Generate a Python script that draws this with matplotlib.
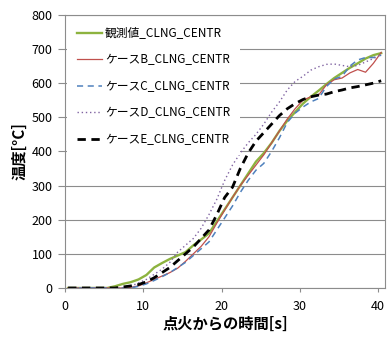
import matplotlib
matplotlib.use('Agg')
import matplotlib.pyplot as plt

plt.rcParams['font.family'] = ['Noto Sans CJK JP', 'DejaVu Sans']

# 時間 [s]
time = [0.4, 1.4, 2.4, 3.4, 4.4, 5.4, 6.4, 7.4, 8.4, 9.4,
        10.4, 11.4, 12.4, 13.4, 14.4, 15.4, 16.4, 17.4, 18.4, 19.4,
        20.4, 21.4, 22.4, 23.4, 24.4, 25.4, 26.4, 27.4, 28.4, 29.4,
        30.4, 31.4, 32.4, 33.4, 34.4, 35.4, 36.4, 37.4, 38.4, 39.4, 40.4]

# 観測値
obs = [0, 0, 0, 0, 0, 0, 5, 12, 17, 25,
       38, 60, 73, 85, 95, 105, 125, 142, 160, 195,
       230, 265, 300, 335, 370, 395, 425, 460, 490, 515,
       540, 560, 578, 597, 615, 630, 645, 658, 672, 682, 688]

case_b = [0, 0, 0, 0, 0, 0, 0, 0, 2, 6,
          15, 25, 35, 45, 58, 78, 100, 122, 150, 190,
          228, 265, 300, 330, 360, 390, 425, 460, 495, 525,
          550, 560, 565, 595, 610, 615, 630, 640, 632, 658, 690]

case_c = [0, 0, 0, 0, 0, 0, 0, 0, 0, 5,
          12, 22, 33, 45, 60, 75, 95, 115, 135, 170,
          205, 240, 280, 315, 345, 365, 400, 440, 485, 512,
          530, 545, 555, 590, 612, 620, 650, 668, 675, 675, 682]

case_d = [0, 0, 0, 0, 0, 0, 0, 0, 5, 15,
          25, 40, 55, 75, 105, 125, 145, 175, 215, 260,
          315, 360, 395, 425, 450, 480, 515, 545, 580, 605,
          620, 638, 648, 655, 656, 652, 648, 652, 662, 672, 683]

case_e = [0, 0, 0, 0, 0, 0, 0, 3, 6, 10,
          18, 30, 45, 60, 80, 100, 120, 145, 170, 215,
          265, 295, 350, 395, 430, 455, 480, 505, 525, 540,
          552, 560, 565, 568, 575, 580, 586, 590, 595, 600, 607]

labels = ['観測値_CLNG_CENTR', 'ケースB_CLNG_CENTR', 'ケースC_CLNG_CENTR',
          'ケースD_CLNG_CENTR', 'ケースE_CLNG_CENTR']

fig = plt.figure(figsize=(3.89, 3.38), dpi=100)
ax = fig.add_axes([0.167, 0.148, 0.823, 0.808])

ax.plot(time, obs, color='#8db33f', lw=1.7, label=labels[0])
ax.plot(time, case_b, color='#c0504d', lw=0.9, label=labels[1])
ax.plot(time, case_c, color='#4f81bd', lw=1.1, dashes=(4, 3), label=labels[2])
ax.plot(time, case_d, color='#8064a2', lw=1.0, dashes=(1, 2), label=labels[3])
ax.plot(time, case_e, color='black', lw=2.0, dashes=(3, 2), label=labels[4])

ax.set_xlim(0, 40.9)
ax.set_ylim(0, 800)
ax.set_xticks([0, 10, 20, 30, 40])
ax.set_yticks(range(0, 801, 100))
ax.yaxis.grid(True, color='#8c8c8c', lw=0.8)
ax.set_axisbelow(True)

for s in ax.spines.values():
    s.set_color('#8c8c8c')
    s.set_linewidth(0.8)
ax.tick_params(axis='y', length=5, width=0.8, color='#8c8c8c', pad=4, labelsize=9)
ax.tick_params(axis='x', length=3, width=0.8, color='#8c8c8c', pad=6, labelsize=9)

ax.set_xlabel('点火からの時間[s]', fontsize=11, fontweight='bold', labelpad=2)
ax.set_ylabel('温度[°C]', fontsize=11, fontweight='bold', labelpad=3)

leg = ax.legend(loc='upper left', bbox_to_anchor=(0.0, 1.0), fontsize=8.5,
                handlelength=2.1, handletextpad=0.3, labelspacing=1.15,
                borderpad=0.8, borderaxespad=0.2, frameon=True, fancybox=False)
leg.get_frame().set_facecolor('white')
leg.get_frame().set_edgecolor('none')
leg.get_frame().set_alpha(1)

fig.savefig('out.png', dpi=100)
